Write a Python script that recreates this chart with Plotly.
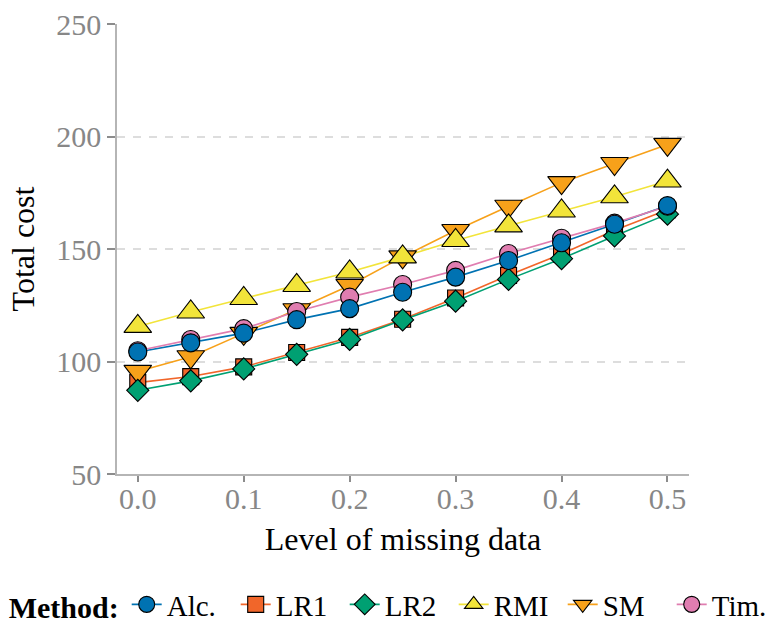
import plotly.graph_objects as go

# Missing-data level on the x axis
missing_level = [0.0, 0.05, 0.10, 0.15, 0.20, 0.25, 0.30, 0.35, 0.40, 0.45, 0.50]

# Total cost for each imputation method
cost_alc = [104.2, 108.3, 112.6, 118.6, 123.5, 130.8, 137.5, 144.9, 152.8, 161.0, 169.3]
cost_lr1 = [90.6, 93.3, 97.6, 104.0, 110.7, 118.8, 128.2, 138.3, 147.8, 158.3, 167.5]
cost_lr2 = [87.2, 91.4, 96.7, 103.2, 109.8, 118.5, 126.8, 136.5, 145.7, 155.8, 165.5]
cost_rmi = [115.6, 122.0, 128.0, 133.8, 139.8, 146.5, 153.8, 160.3, 166.9, 173.2, 180.2]
cost_sm = [95.6, 102.1, 112.5, 123.0, 133.8, 146.5, 158.2, 169.0, 179.5, 188.0, 196.5]
cost_tim = [104.8, 109.8, 114.6, 122.2, 128.6, 134.2, 140.5, 148.0, 154.8, 161.5, 169.0]

y_ticks = [50, 100, 150, 200, 250]
x_ticks = [0.0, 0.1, 0.2, 0.3, 0.4, 0.5]

FONT = "Liberation Serif"

# name, values, colour, marker symbol, marker size
methods = {
    "Alc.": (cost_alc, "#0072B2", "circle", 18),
    "LR1": (cost_lr1, "#F1662A", "square", 16),
    "LR2": (cost_lr2, "#00A072", "diamond", 17),
    "RMI": (cost_rmi, "#F2E43A", "triangle-up", 24),
    "SM": (cost_sm, "#F7A11A", "triangle-down", 24),
    "Tim.": (cost_tim, "#E07DB0", "circle", 18),
}
legend_order = ["Alc.", "LR1", "LR2", "RMI", "SM", "Tim."]
point_order = ["LR1", "SM", "LR2", "RMI", "Tim.", "Alc."]

fig = go.Figure()

# connecting lines sit underneath every marker
for name in legend_order:
    vals, col, sym, size = methods[name]
    fig.add_trace(go.Scatter(
        x=missing_level, y=vals, mode="lines",
        line=dict(color=col, width=1.6),
        showlegend=False, hoverinfo="skip",
    ))

# markers, stacked so that later methods overlap earlier ones
for name in point_order:
    vals, col, sym, size = methods[name]
    fig.add_trace(go.Scatter(
        x=missing_level, y=vals, mode="markers", name=name,
        marker=dict(symbol=sym, size=size, color=col,
                    line=dict(color="black", width=1.1)),
        showlegend=False,
    ))

# legend keys (line + marker)
for name in legend_order:
    vals, col, sym, size = methods[name]
    fig.add_trace(go.Scatter(
        x=[None], y=[None], mode="lines+markers", name=name,
        line=dict(color=col, width=1.6),
        marker=dict(symbol=sym, size=size, color=col,
                    line=dict(color="black", width=1.1)),
        showlegend=True,
    ))

axis_common = dict(
    showline=True, linecolor="#B5B5B5", linewidth=1.5,
    ticks="outside", tickcolor="#8C8C8C", tickwidth=1.5,
    tickfont=dict(family=FONT, size=30, color="#878787"),
    zeroline=False, automargin=False,
)

fig.update_xaxes(
    range=[-0.0196, 0.5203], tickvals=x_ticks,
    ticktext=[f"{v:.1f}" for v in x_ticks],
    ticklen=6, showgrid=False, ticklabelstandoff=-9,
    title=dict(text="Level of missing data",
               font=dict(family=FONT, size=32, color="black"), standoff=14),
    **axis_common,
)
fig.update_yaxes(
    range=[50, 250], tickvals=y_ticks, ticklen=8,
    showgrid=True, gridcolor="#DDDDDD", gridwidth=1.5, griddash="8px,8px",
    title=dict(text="Total cost",
               font=dict(family=FONT, size=32, color="black"), standoff=12),
    **axis_common,
)

fig.update_layout(
    width=768, height=621,
    margin=dict(l=117, r=79, t=24, b=147, pad=0, autoexpand=False),
    paper_bgcolor="white", plot_bgcolor="white",
    font=dict(family=FONT, size=30, color="black"),
    legend=dict(
        orientation="h", x=-0.1928, xanchor="left", y=-0.29, yanchor="middle",
        title=dict(text="<b>Method:</b>", side="left",
                   font=dict(family=FONT, size=30, color="black")),
        font=dict(family=FONT, size=29, color="black"),
        bgcolor="rgba(0,0,0,0)", itemwidth=30, tracegroupgap=0,
        entrywidth=64, entrywidthmode="pixels",
    ),
)

fig.write_html("out.html")
